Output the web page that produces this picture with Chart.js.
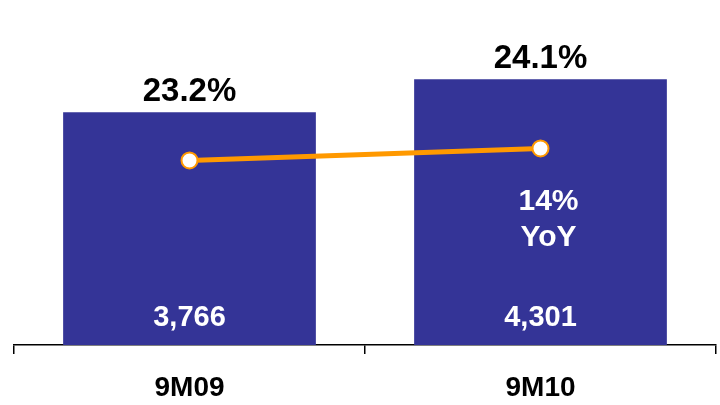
<!DOCTYPE html>
<html lang="en">
  <head>
    <meta charset="UTF-8" />
    <title>9M09 vs 9M10</title>
    <script src="https://cdn.jsdelivr.net/npm/chart.js"></script>
    <style>
      html, body { margin: 0; padding: 0; background: #fff; }
      #wrap { width: 720px; height: 405px; }
    </style>
  </head>
  <body>
    <div id="wrap"><canvas id="chart" width="720" height="405"></canvas></div>

    <script>
      const periods = ["9M09", "9M10"];
      const revenue = [3766, 4301];
      const margin = [23.2, 24.1];
      const growthNote = ["14%", "YoY"];

      const navy = "#343497";
      const orange = "#FF9900";
      const font = '"Liberation Sans", Arial, sans-serif';

      // value labels: margin above each bar, revenue inside at the base, growth note on the last bar
      const valueLabels = {
        id: "valueLabels",
        afterDatasetsDraw(chart) {
          const ctx = chart.ctx;
          const bars = chart.getDatasetMeta(0).data;
          const points = chart.getDatasetMeta(1).data;
          const base = chart.scales.y.getPixelForValue(0);
          ctx.save();
          ctx.textAlign = "center";
          ctx.textBaseline = "middle";
          bars.forEach((bar, i) => {
            ctx.fillStyle = "#000";
            ctx.font = "bold 33px " + font;
            ctx.fillText(margin[i].toFixed(1) + "%", bar.x, bar.y - 20);
            ctx.fillStyle = "#fff";
            ctx.font = "bold 29px " + font;
            ctx.fillText(revenue[i].toLocaleString("en-US"), bar.x, base - 27);
          });
          const last = points[points.length - 1];
          ctx.font = "bold 30px " + font;
          ctx.fillStyle = "#fff";
          ctx.fillText(growthNote[0], last.x + 8, last.y + 53);
          ctx.fillText(growthNote[1], last.x + 8, last.y + 89);
          ctx.restore();
        },
      };

      new Chart(document.getElementById("chart"), {
        type: "bar",
        data: {
          labels: periods,
          datasets: [
            {
              type: "bar",
              data: revenue,
              backgroundColor: navy,
              barPercentage: 0.72,
              categoryPercentage: 1,
              yAxisID: "y",
              order: 2,
            },
            {
              type: "line",
              data: margin,
              borderColor: orange,
              borderWidth: 5,
              pointRadius: 8,
              pointBorderWidth: 2,
              pointBackgroundColor: "#fff",
              pointBorderColor: orange,
              yAxisID: "y2",
              order: 1,
            },
          ],
        },
        options: {
          responsive: false,
          animation: false,
          layout: { autoPadding: false, padding: { left: 14, right: 4, top: 0, bottom: 0 } },
          plugins: { legend: { display: false }, tooltip: { enabled: false } },
          scales: {
            x: {
              offset: true,
              border: { color: "#000", width: 1.5 },
              grid: {
                offset: true,
                drawOnChartArea: false,
                tickLength: 9,
                color: "#000",
                lineWidth: 1.5,
              },
              ticks: {
                color: "#000",
                padding: 17,
                font: { family: font, size: 28, weight: "bold" },
              },
              afterFit(scale) {
                scale.height = 60;
              },
            },
            y: { display: false, min: 0, max: 5584 },
            y2: { display: false, min: 9.4, max: 35.2 },
          },
        },
        plugins: [valueLabels],
      });
    </script>
  </body>
</html>
